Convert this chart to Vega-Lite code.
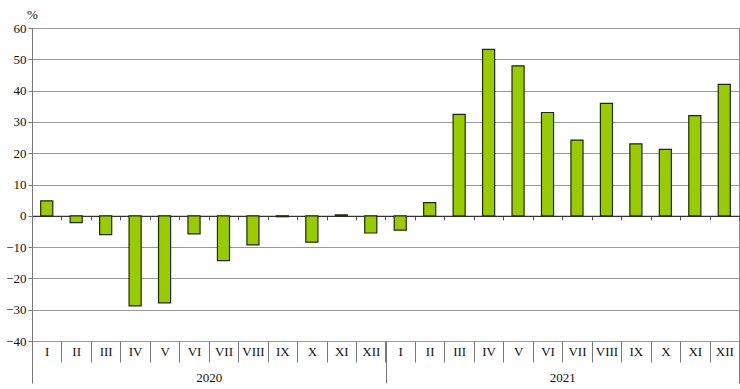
{
  "$schema": "https://vega.github.io/schema/vega-lite/v6.json",
  "width": 707,
  "height": 313,
  "autosize": {"type": "none"},
  "padding": {"left": 32, "top": 28, "right": 1, "bottom": 48},
  "background": "white",
  "config": {
    "view": {"stroke": "#8a8a8a", "strokeWidth": 1},
    "font": "Times New Roman, Liberation Serif, DejaVu Serif, serif",
    "axis": {"labelFont": "Times New Roman, Liberation Serif, DejaVu Serif, serif", "titleFont": "Times New Roman, Liberation Serif, DejaVu Serif, serif", "labelColor": "#111", "titleColor": "#111"}
  },
  "data": {
    "values": [
      {"k": "2020-I", "year": "2020", "v": 4.8},
      {"k": "2020-II", "year": "2020", "v": -2.2},
      {"k": "2020-III", "year": "2020", "v": -6.0},
      {"k": "2020-IV", "year": "2020", "v": -28.8},
      {"k": "2020-V", "year": "2020", "v": -27.8},
      {"k": "2020-VI", "year": "2020", "v": -5.8},
      {"k": "2020-VII", "year": "2020", "v": -14.3},
      {"k": "2020-VIII", "year": "2020", "v": -9.3},
      {"k": "2020-IX", "year": "2020", "v": -0.3},
      {"k": "2020-X", "year": "2020", "v": -8.4},
      {"k": "2020-XI", "year": "2020", "v": 0.3},
      {"k": "2020-XII", "year": "2020", "v": -5.5},
      {"k": "2021-I", "year": "2021", "v": -4.6},
      {"k": "2021-II", "year": "2021", "v": 4.2},
      {"k": "2021-III", "year": "2021", "v": 32.4},
      {"k": "2021-IV", "year": "2021", "v": 53.2},
      {"k": "2021-V", "year": "2021", "v": 47.9},
      {"k": "2021-VI", "year": "2021", "v": 33.0},
      {"k": "2021-VII", "year": "2021", "v": 24.2},
      {"k": "2021-VIII", "year": "2021", "v": 35.9},
      {"k": "2021-IX", "year": "2021", "v": 23.0},
      {"k": "2021-X", "year": "2021", "v": 21.2},
      {"k": "2021-XI", "year": "2021", "v": 32.0},
      {"k": "2021-XII", "year": "2021", "v": 42.0}
    ]
  },
  "resolve": {"scale": {"x": "independent"}, "axis": {"x": "independent"}},
  "layer": [
    {
      "mark": {"type": "bar", "fill": "#99CC00", "stroke": "#1e2a08", "strokeWidth": 1.2, "width": {"band": 0.41}},
      "encoding": {
        "x": {
          "field": "k", "type": "nominal", "sort": null,
          "scale": {"paddingInner": 0, "paddingOuter": 0},
          "axis": {
            "orient": "bottom", "title": null, "labelAngle": 0,
            "labelExpr": "split(datum.value, '-')[1]",
            "tickBand": "extent", "tickSize": 21, "tickColor": "#777",
            "domain": false, "labelPadding": -17, "labelFontSize": 13
          }
        },
        "y": {
          "field": "v", "type": "quantitative",
          "scale": {"domain": [-40, 60], "nice": false, "zero": false},
          "axis": {
            "values": [-40, -30, -20, -10, 0, 10, 20, 30, 40, 50, 60],
            "title": "%", "titleAngle": 0, "titleX": 0, "titleY": -14,
            "titleAlign": "center", "titleBaseline": "middle",
            "titleFontSize": 13, "titleFontWeight": "normal",
            "labelFontSize": 13, "tickSize": 4, "tickColor": "#777",
            "domainColor": "#777", "gridColor": "#999", "gridWidth": 1.2
          }
        }
      }
    },
    {
      "mark": {"type": "rule", "opacity": 0},
      "encoding": {
        "x": {
          "field": "year", "type": "nominal",
          "scale": {"paddingInner": 0, "paddingOuter": 0},
          "axis": {
            "orient": "bottom", "title": null, "labelAngle": 0,
            "tickBand": "extent", "tickSize": 42, "tickColor": "#777",
            "domain": false, "labelPadding": -12, "labelFontSize": 13
          }
        }
      }
    },
    {
      "mark": {"type": "rule", "opacity": 0},
      "encoding": {
        "x": {
          "field": "k", "type": "nominal", "sort": null,
          "scale": {"paddingInner": 0, "paddingOuter": 0},
          "axis": {
            "orient": "top", "offset": -187.8, "title": null,
            "labels": false, "tickBand": "extent", "tickSize": -4,
            "tickColor": "#555", "domainColor": "#333", "domainWidth": 1.2
          }
        }
      }
    }
  ]
}
